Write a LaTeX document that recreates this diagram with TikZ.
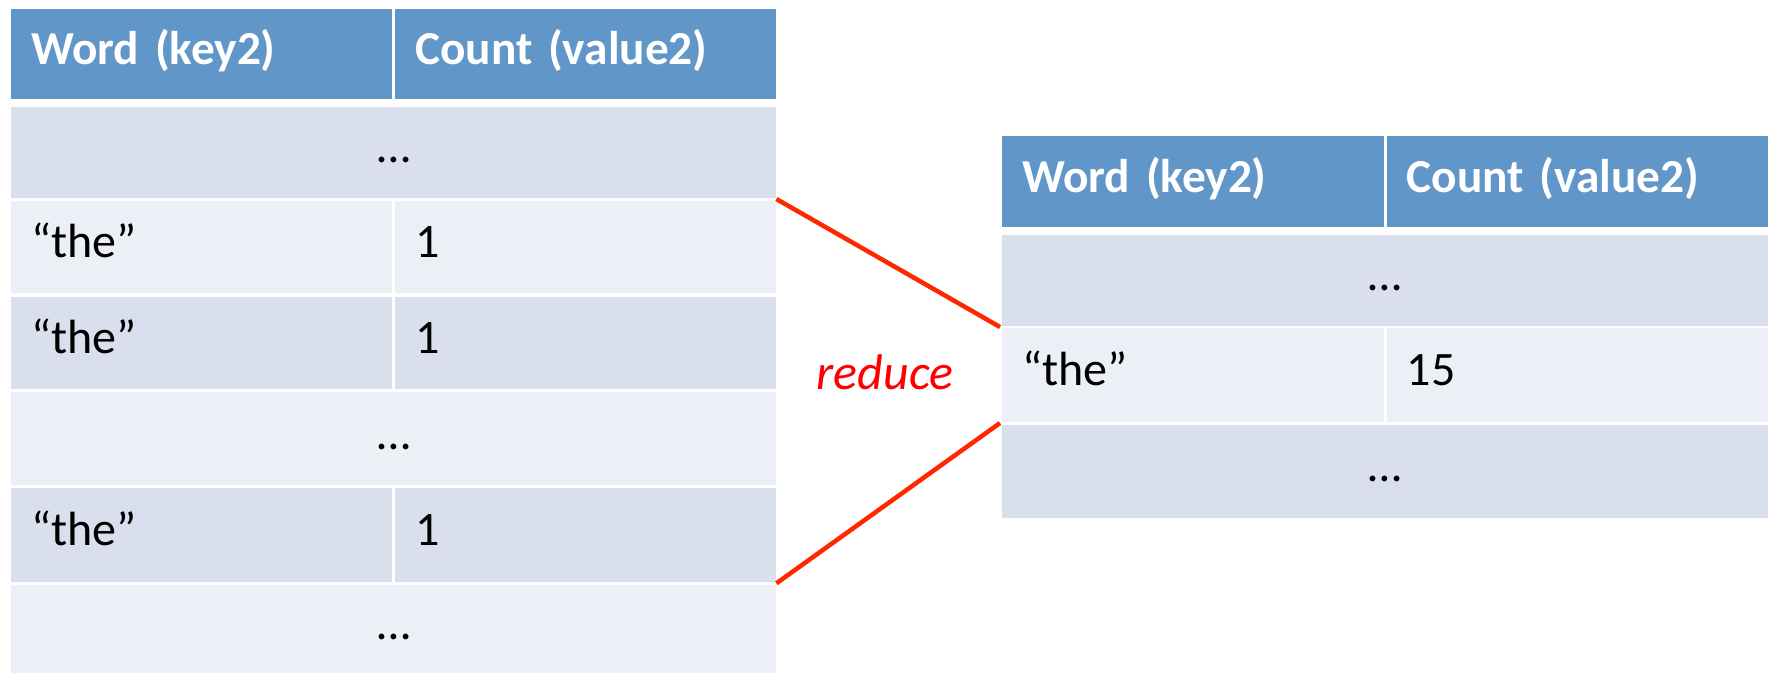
\documentclass[tikz,border=0pt]{standalone}
\usepackage{fontspec}
\setmainfont{Carlito}
\definecolor{hdr}{RGB}{97,150,200}
\definecolor{bandA}{RGB}{217,223,236}
\definecolor{bandB}{RGB}{236,239,245}
\definecolor{redline}{RGB}{255,38,0}
\newcommand{\cellfont}{\fontsize{48}{58}\selectfont}
\newcommand{\hdrfont}{\fontsize{47.3}{57}\selectfont\bfseries}
\begin{document}
\begin{tikzpicture}[x=1pt,y=-1pt]
\tikzset{
  cellbase/.style={rectangle, anchor=north west, inner ysep=0pt, inner xsep=20pt,
    text height=32pt, text depth=11pt, font=\cellfont, text=black},
  hcell/.style={cellbase, fill=hdr, text=white, font=\hdrfont},
  dcell/.style={cellbase, fill=bandA},
  lcell/.style={cellbase, fill=bandB},
  halfw/.style={minimum width=381pt, text width=341pt, align=left},
  fullw/.style={minimum width=765pt, text width=725pt, align=center},
  rhalfw/.style={minimum width=381.5pt, text width=341.5pt, align=left},
  rfullw/.style={minimum width=766pt, text width=726pt, align=center},
  link/.style={draw=redline, line width=4.5pt},
}
\useasboundingbox (0,0) rectangle (1768,672);
% ---------- left table ----------
\node[hcell, halfw, minimum height=90pt] (lh1) at (11,9) {Word (key2)};
\node[hcell, halfw, minimum height=90pt] (lh2) at (395,9) {Count (value2)};
\node[dcell, fullw, minimum height=90.3pt] (l1) at (11,107) {…};
\node[lcell, halfw, minimum height=92.5pt] (l2a) at (11,200.5) {“the”};
\node[lcell, halfw, minimum height=92.5pt] (l2b) at (395,200.5) {1};
\node[dcell, halfw, minimum height=92.5pt] (l3a) at (11,296.5) {“the”};
\node[dcell, halfw, minimum height=92.5pt] (l3b) at (395,296.5) {1};
\node[lcell, fullw, minimum height=92.8pt] (l4) at (11,392.2) {…};
\node[dcell, halfw, minimum height=93.5pt] (l5a) at (11,488.2) {“the”};
\node[dcell, halfw, minimum height=93.5pt] (l5b) at (395,488.2) {1};
\node[lcell, fullw, minimum height=88pt] (l6) at (11,584.3) {…};
% ---------- right table ----------
\node[hcell, rhalfw, minimum height=91pt] (rh1) at (1002,136) {Word (key2)};
\node[hcell, rhalfw, minimum height=91pt] (rh2) at (1386.5,136) {Count (value2)};
\node[dcell, rfullw, minimum height=90.5pt] (r1) at (1002,235) {…};
\node[lcell, rhalfw, minimum height=94pt] (r2a) at (1002,328) {“the”};
\node[lcell, rhalfw, minimum height=94pt] (r2b) at (1386.5,328) {15};
\node[dcell, rfullw, minimum height=93pt] (r3) at (1002,424.5) {…};
% ---------- connectors ----------
\draw[link] ([yshift=1.5pt]l2b.north east) -- ([xshift=-2pt,yshift=1pt]r2a.north west);
\draw[link] ([yshift=1pt]l6.north east) -- ([xshift=-2pt,yshift=1.5pt]r3.north west);
\node[anchor=base, text=red, font=\fontsize{50}{60}\selectfont\itshape, inner sep=0pt] (reduce) at (885,389) {reduce};
\end{tikzpicture}
\end{document}
